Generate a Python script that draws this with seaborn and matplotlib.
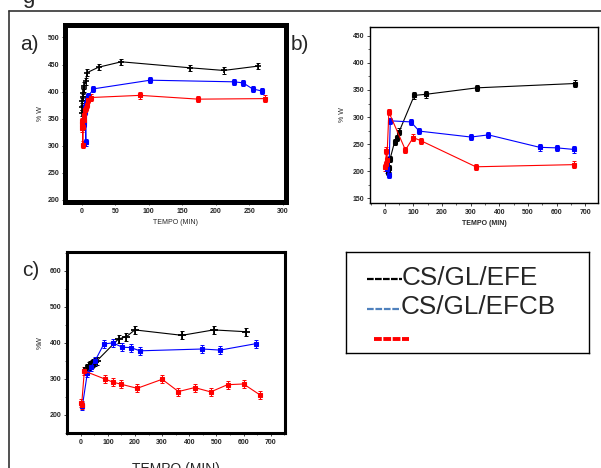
import numpy as np
import pandas as pd
import seaborn as sns
import matplotlib.pyplot as plt
from matplotlib.lines import Line2D
from matplotlib.ticker import MultipleLocator

# Panel a) swelling (% W) vs time (min)
a_efe_t = [0, 0.5, 1, 1.5, 2, 3, 4, 6, 8, 25, 59, 161, 212, 263]
a_efe_w = [360, 372, 382, 390, 398, 406, 411, 419, 435, 445, 455, 444, 439, 447]
a_efcb_t = [2, 3, 3.5, 4, 4.5, 5, 6, 6.5, 7.5, 9.5, 17.5, 102, 228, 241, 255, 269]
a_efcb_w = [336, 345, 355, 340, 363, 371, 306, 379, 385, 391, 405, 421, 418, 416, 405, 401]
a_red_t = [0, 0.5, 1, 1.5, 2, 3, 4, 5, 6, 8, 10, 13.5, 87, 174, 274]
a_red_w = [340, 332, 345, 302, 335, 348, 357, 366, 370, 376, 385, 389, 393, 386, 387]

# Panel b)
b_efe_t = [10, 14, 18, 34, 43, 50, 103, 143, 322, 665]
b_efe_w = [199, 205, 222, 254, 261, 273, 340, 342, 354, 362]
b_efcb_t = [8, 14, 19, 91, 120, 301, 362, 541, 601, 662]
b_efcb_w = [203, 193, 293, 291, 274, 263, 267, 244, 243, 240]
b_red_t = [1, 3, 5, 7, 14, 72, 99, 127, 318, 662]
b_red_w = [207, 213, 238, 220, 309, 239, 262, 256, 208, 212]

# Panel c)
c_efe_t = [24, 30, 34, 40, 46, 53, 59, 139, 168, 199, 373, 490, 608]
c_efe_w = [330, 335, 339, 341, 343, 346, 350, 411, 417, 436, 421, 436, 431]
c_efcb_t = [6, 24, 38, 53, 85, 118, 153, 184, 218, 448, 514, 647]
c_efcb_w = [226, 316, 334, 351, 397, 400, 388, 387, 378, 383, 380, 398]
c_red_t = [0, 3, 13, 88, 119, 150, 208, 300, 360, 420, 479, 541, 600, 660]
c_red_w = [234, 228, 322, 300, 291, 285, 274, 299, 265, 276, 264, 284, 286, 256]

# error bar half-heights per panel
err_a = 6
err_b = 6
err_c = 11

legend_labels = ['CS/GL/EFE', 'CS/GL/EFCB', '']

sns.set_style("white")
plt.rcParams['font.family'] = ['Liberation Sans', 'DejaVu Sans']

fig = plt.figure(figsize=(6.01, 4.68), dpi=100)


def draw_series(ax, t, w, err, color, marker, ms, mew=0.8):
    df = pd.DataFrame({'t': t, 'w': w})
    sns.lineplot(data=df, x='t', y='w', ax=ax, color=color, lw=0.8,
                 estimator=None, sort=False, marker=marker, markersize=ms,
                 markeredgewidth=mew, markeredgecolor=color, zorder=3)
    ax.errorbar(df['t'], df['w'], yerr=err, fmt='none', ecolor=color,
                elinewidth=0.7, capsize=1.5, capthick=0.7, zorder=2)


def style_axes(ax, xlim, ylim, xmaj, ymaj, spine_w, xlabel, ylabel,
               xlab_size=5, xlab_bold=False, ylab_pad=4):
    ax.set_xlim(*xlim)
    ax.set_ylim(*ylim)
    ax.xaxis.set_major_locator(MultipleLocator(xmaj))
    ax.xaxis.set_minor_locator(MultipleLocator(xmaj / 2))
    ax.yaxis.set_major_locator(MultipleLocator(ymaj))
    ax.yaxis.set_minor_locator(MultipleLocator(ymaj / 2))
    for s in ax.spines.values():
        s.set_linewidth(spine_w)
        s.set_color('black')
    ax.tick_params(which='major', direction='out', length=2.5, width=0.6,
                   labelsize=5, pad=1.5, bottom=True, left=True)
    ax.tick_params(which='minor', direction='out', length=1.5, width=0.5,
                   bottom=True, left=True)
    for lab in ax.get_xticklabels() + ax.get_yticklabels():
        lab.set_fontweight('bold')
    ax.set_xlabel(xlabel, fontsize=xlab_size,
                  fontweight='bold' if xlab_bold else 'normal', labelpad=3)
    ax.set_ylabel(ylabel, fontsize=5, labelpad=ylab_pad)


# a)
ax_a = fig.add_axes([0.1082, 0.5684, 0.3677, 0.3782])
draw_series(ax_a, a_efe_t, a_efe_w, err_a, 'black', '+', 4.5, 1.2)
draw_series(ax_a, a_efcb_t, a_efcb_w, err_a, '#0000ff', 's', 2.5)
draw_series(ax_a, a_red_t, a_red_w, err_a, '#ff0000', 's', 2.5)
style_axes(ax_a, (-25, 305), (196, 523), 50, 50, 3.6, 'TEMPO (MIN)', '% W',
           ylab_pad=3)

# b)
ax_b = fig.add_axes([0.6156, 0.5662, 0.3794, 0.3767])
draw_series(ax_b, b_efe_t, b_efe_w, err_b, 'black', 's', 2.8)
draw_series(ax_b, b_efcb_t, b_efcb_w, err_b, '#0000ff', 's', 2.8)
draw_series(ax_b, b_red_t, b_red_w, err_b, '#ff0000', 's', 2.8)
style_axes(ax_b, (-52, 745), (141, 467), 100, 50, 1.0, 'TEMPO (MIN)', '% W',
           xlab_bold=True, ylab_pad=5)

# c)
ax_c = fig.add_axes([0.111, 0.0748, 0.3632, 0.3874])
draw_series(ax_c, c_efe_t, c_efe_w, err_c, 'black', '+', 6, 1.3)
draw_series(ax_c, c_efcb_t, c_efcb_w, err_c, '#0000ff', 's', 2.8)
draw_series(ax_c, c_red_t, c_red_w, err_c, '#ff0000', 's', 3)
style_axes(ax_c, (-52, 753), (150, 653), 100, 100, 2.2, 'TEMPO (MIN)', '%W',
           xlab_size=10, ylab_pad=4)
ax_c.xaxis.labelpad = 12

# panel letters
fig.text(20 / 601, 1 - 44 / 468, 'a)', fontsize=15, va='center')
fig.text(291 / 601, 1 - 45 / 468, 'b)', fontsize=15, va='center')
fig.text(22 / 601, 1 - 271 / 468, 'c)', fontsize=15, va='center')
fig.text(22 / 601, 1 - 3 / 468, 'g', fontsize=16, va='baseline')

# outer frame
fig.add_artist(Line2D([9 / 601, 1], [1 - 11 / 468, 1 - 11 / 468],
                      transform=fig.transFigure, color='#333333', lw=1.2))
fig.add_artist(Line2D([9 / 601, 9 / 601], [0, 1 - 11 / 468],
                      transform=fig.transFigure, color='#333333', lw=1.2))

# legend box (pixel coordinates inside the box)
ax_l = fig.add_axes([346 / 601, 1 - 353 / 468, 243 / 601, 101 / 468])
ax_l.set_xlim(346, 589)
ax_l.set_ylim(353, 252)
ax_l.set_xticks([])
ax_l.set_yticks([])
for s in ax_l.spines.values():
    s.set_linewidth(1.0)
    s.set_color('black')
ax_l.plot([367, 402], [279, 279], color='black', lw=1.6, ls=(0, (3, 0.6)))
ax_l.plot([367, 401], [309, 309], color='#4f81bd', lw=1.6, ls=(0, (3, 0.8)))
ax_l.plot([374, 409], [339, 339], color='#ff0000', lw=2.8, ls=(0, (2, 0.4)))
ax_l.text(402, 278, legend_labels[0], fontsize=18.8, va='center')
ax_l.text(401, 307, legend_labels[1], fontsize=18.8, va='center')

fig.savefig('out.png', dpi=100)
